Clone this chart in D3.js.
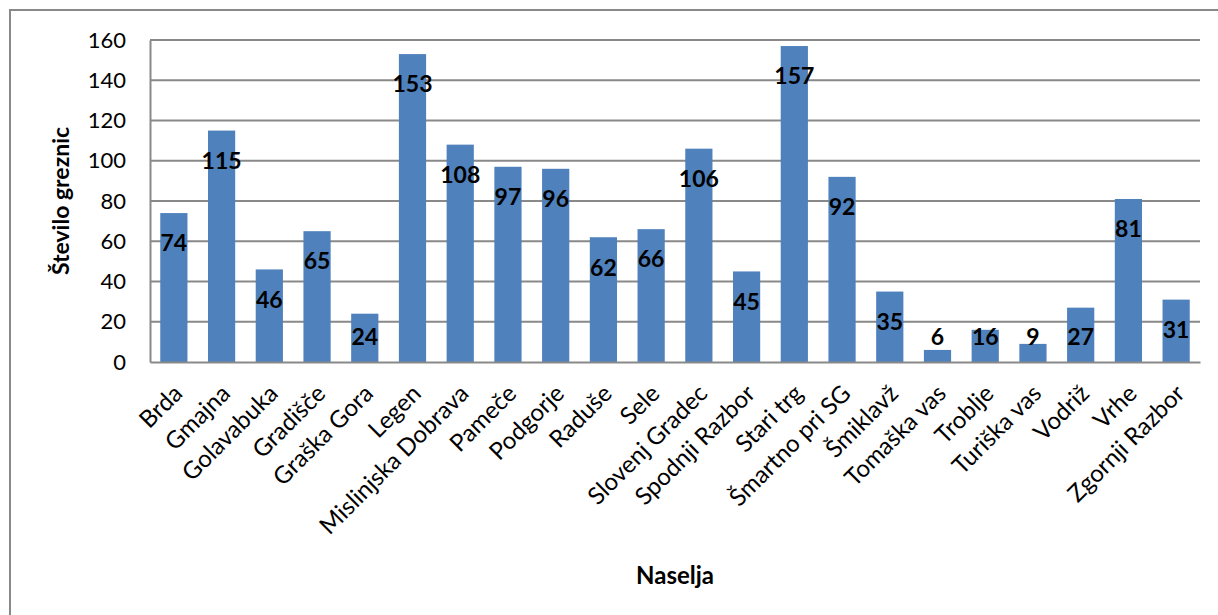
<!DOCTYPE html>
<html>
<head>
<meta charset="utf-8">
<script src="https://cdn.jsdelivr.net/npm/d3@7"></script>
<style>
  html, body { margin: 0; padding: 0; background: #ffffff; }
  svg { display: block; font-family: Lato, "Open Sans", "Liberation Sans", sans-serif; }
</style>
</head>
<body>
<svg id="chart" width="1218" height="615"></svg>
<script>
// Število greznic po naseljih
const categories = [
  "Brda", "Gmajna", "Golavabuka", "Gradišče", "Graška Gora", "Legen",
  "Mislinjska Dobrava", "Pameče", "Podgorje", "Raduše", "Sele",
  "Slovenj Gradec", "Spodnji Razbor", "Stari trg", "Šmartno pri SG",
  "Šmiklavž", "Tomaška vas", "Troblje", "Turiška vas", "Vodriž", "Vrhe",
  "Zgornji Razbor"
];
const values = [74, 115, 46, 65, 24, 153, 108, 97, 96, 62, 66, 106, 45, 157, 92, 35, 6, 16, 9, 27, 81, 31];
const yTicks = [0, 20, 40, 60, 80, 100, 120, 140, 160];
const yTitle = "Število greznic";
const xTitle = "Naselja";

const svg = d3.select("#chart");
const plot = { left: 150, right: 1200, top: 40, bottom: 362 };
const gridColor = "#898989";
const fontFamily = "Lato, 'Open Sans', sans-serif";

// outer chart frame
svg.append("rect")
  .attr("x", 10).attr("y", 10)
  .attr("width", 1230).attr("height", 630)
  .attr("fill", "none")
  .attr("stroke", gridColor)
  .attr("stroke-width", 2);

const x = d3.scaleBand()
  .domain(categories)
  .range([plot.left, plot.right])
  .paddingInner(0.43)
  .paddingOuter(0.215);

const y = d3.scaleLinear()
  .domain([0, 160])
  .range([plot.bottom, plot.top]);

// horizontal gridlines
svg.append("g")
  .selectAll("line")
  .data(yTicks.filter(t => t > 0))
  .join("line")
  .attr("x1", plot.left).attr("x2", plot.right)
  .attr("y1", d => y(d)).attr("y2", d => y(d))
  .attr("stroke", gridColor)
  .attr("stroke-width", 2);

// y axis
const yAxis = svg.append("g")
  .attr("transform", `translate(${plot.left},0)`)
  .call(d3.axisLeft(y).tickValues(yTicks).tickSize(0).tickPadding(24));
yAxis.select(".domain").attr("stroke", gridColor).attr("stroke-width", 2);
yAxis.selectAll("text")
  .attr("font-size", 22)
  .attr("fill", "#000")
  .attr("font-family", fontFamily);

// bars
svg.append("g")
  .selectAll("rect")
  .data(values)
  .join("rect")
  .attr("x", (d, i) => x(categories[i]))
  .attr("width", x.bandwidth())
  .attr("y", d => y(d))
  .attr("height", d => y(0) - y(d))
  .attr("fill", "#4F81BD");

// x axis baseline and category labels
const xAxis = svg.append("g")
  .attr("transform", `translate(0,${plot.bottom})`)
  .call(d3.axisBottom(x).tickSize(0).tickPadding(0));
xAxis.select(".domain").attr("stroke", gridColor).attr("stroke-width", 2);
xAxis.selectAll(".tick text")
  .attr("font-size", 24)
  .attr("fill", "#000")
  .attr("font-family", fontFamily)
  .attr("text-anchor", "end")
  .attr("dy", 0)
  .attr("y", 0)
  .attr("transform", "translate(10,33) rotate(-45)");

// value labels near the top inside each bar
svg.append("g")
  .selectAll("text")
  .data(values)
  .join("text")
  .attr("x", (d, i) => x(categories[i]) + x.bandwidth() / 2)
  .attr("y", d => Math.min(y(d) + 30, y(0) - 25))
  .attr("dy", "0.36em")
  .attr("text-anchor", "middle")
  .attr("font-size", 23)
  .attr("font-weight", "bold")
  .attr("fill", "#000")
  .text(d => d);

// axis titles
svg.append("text")
  .attr("transform", `translate(69,${(plot.top + plot.bottom) / 2}) rotate(-90)`)
  .attr("text-anchor", "middle")
  .attr("font-size", 23)
  .attr("font-weight", "bold")
  .attr("fill", "#000")
  .text(yTitle);

svg.append("text")
  .attr("x", (plot.left + plot.right) / 2)
  .attr("y", 584)
  .attr("text-anchor", "middle")
  .attr("font-size", 24)
  .attr("font-weight", "bold")
  .attr("fill", "#000")
  .text(xTitle);
</script>
</body>
</html>
